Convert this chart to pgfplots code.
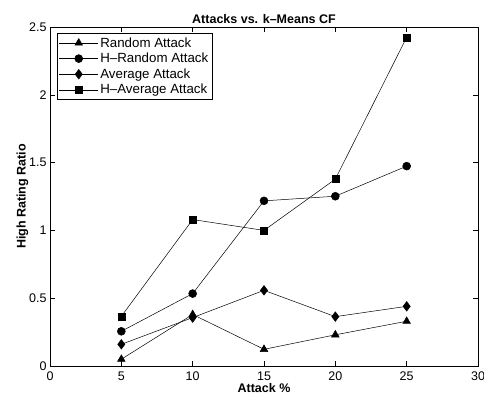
\documentclass[border=0pt]{standalone}
\usepackage{fontspec}
\setmainfont{Liberation Sans}
\usepackage{pgfplots}
\pgfplotsset{compat=1.18}

\begin{document}
\begin{tikzpicture}
\begin{axis}[
  scale only axis,
  width=428pt, height=339pt,
  xmin=0, xmax=30, ymin=0, ymax=2.5,
  xtick={0,5,...,30},
  ytick={0,0.5,1,1.5,2,2.5},
  yticklabels={0,0.5,1,1.5,2,2.5},
  tick align=inside,
  major tick length=5pt,
  tick style={black, line width=0.5pt},
  axis line style={line width=0.6pt},
  /pgf/number format/assume math mode=true,
  tick label style={font=\fontsize{12.5}{14}\selectfont},
  xticklabel style={yshift=-2pt},
  title={\bfseries Attacks vs. k{\char"2013}Means CF},
  title style={font=\fontsize{12.5}{14}\selectfont, yshift=-6pt},
  xlabel={\bfseries Attack \%},
  ylabel={\bfseries High Rating Ratio},
  label style={font=\fontsize{12.5}{14}\selectfont},
  xlabel style={yshift=4pt},
  ylabel style={yshift=-6pt},
  legend style={at={(0.016,0.982)}, anchor=north west, draw=black,
    line width=0.6pt, font=\fontsize{13.3}{15}\selectfont,
    row sep=0.5pt, inner sep=2pt, cells={anchor=west}},
  legend image post style={line width=0.5pt},
  legend image code/.code={
    \draw[mark repeat=2, mark phase=2] plot coordinates {(0cm,0cm) (0.68cm,0cm) (1.36cm,0cm)};
  },
  every axis plot/.append style={black, line width=0.5pt},
]
\addplot[mark=triangle*, mark size=4.4pt] coordinates {
  (5,0.05) (10,0.38) (15,0.123) (20,0.23) (25,0.33)};
\addlegendentry{Random Attack}
\addplot[mark=*, mark size=4pt] coordinates {
  (5,0.256) (10,0.534) (15,1.218) (20,1.252) (25,1.474)};
\addlegendentry{H{\char"2013}Random Attack}
\addplot[mark=diamond*, mark size=4.8pt] coordinates {
  (5,0.16) (10,0.357) (15,0.558) (20,0.364) (25,0.44)};
\addlegendentry{Average Attack}
\addplot[mark=square*, mark size=3.5pt] coordinates {
  (5,0.366) (10,1.08) (15,1.0) (20,1.378) (25,2.424)};
\addlegendentry{H{\char"2013}Average Attack}
\end{axis}
\pgfresetboundingbox
\path (current axis.south west) ++(-50pt,-36pt) coordinate (bl);
\path (current axis.north east) ++(6pt,27pt) coordinate (tr);
\useasboundingbox (bl) rectangle (tr);
\end{tikzpicture}
\end{document}
